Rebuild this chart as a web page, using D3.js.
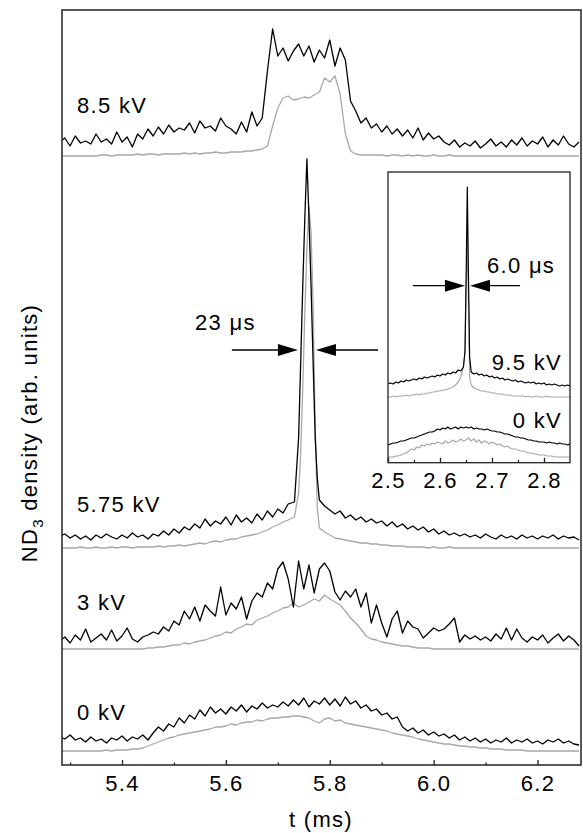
<!DOCTYPE html>
<html>
<head>
<meta charset="utf-8">
<script src="https://cdn.jsdelivr.net/npm/d3@7"></script>
<style>
  body { margin: 0; background: #fff; }
  text { font-family: "Liberation Sans", Arial, sans-serif; font-size: 22px; letter-spacing: 1.3px; fill: #000; }
</style>
</head>
<body>
<svg id="chart" width="583" height="833"></svg>
<script>
// sampling grid of the main traces (ms) and of the inset traces (ms)
const mainStart = 5.28, mainStep = 0.01;
const insetStart = 2.5, insetStep = 0.005;

const mainTicks = [5.4, 5.6, 5.8, 6.0, 6.2];
const mainMinor = [5.3, 5.5, 5.7, 5.9, 6.1];
const insetTicks = [2.5, 2.6, 2.7, 2.8];
const insetMinor = [2.55, 2.65, 2.75];

const voltages = ["0 kV", "3 kV", "5.75 kV", "8.5 kV"];
const offsets = [14, 116, 217, 609];

// ND3 signal, 5.28 .. 6.28 ms, black = measured, grey = averaged
const black0 = [14,12,16,11,13,9,14,10,12,8, 13,11,15,10,14,12,16,11,18,24,
  20,27,24,33,28,36,32,41,35,44, 38,42,37,44,40,46,39,45,42,48,
  43,46,44,49,45,51,46,53,44,50, 47,53,46,52,45,54,47,50,43,46,
  40,42,36,38,32,34,24,20,23,18, 21,16,19,15,17,13,16,11,14,10,
  13,9,12,8,11,9,13,8,11,9, 12,8,10,7,11,9,12,8,10,7, 6];
const grey0 = [0,0,0,0,0,0,0,0,0,1, 0,1,1,1,2,2,3,5,7,9,
  11,13,14,16,17,18,19,20,21,22, 24,24,25,27,26,28,29,29,31,30,
  32,33,33,34,34,35,35,34,33,30, 28,32,33,30,31,28,27,26,25,24,
  23,22,21,20,18,17,16,15,14,12, 11,10,9,8,7,7,6,5,5,4,
  4,3,3,2,2,2,1,1,1,1, 0,0,0,0,0,0,0,0,0,0, 0];

const black3 = [8,12,6,14,9,20,7,11,15,9, 19,8,13,21,10,7,12,14,17,15,
  22,18,28,24,38,30,42,28,44,38, 33,62,34,46,40,52,30,48,56,52,
  66,60,80,87,70,42,88,60,84,56, 80,86,78,57,49,58,52,60,42,56,
  26,44,26,12,30,38,16,28,22,20, 11,16,21,18,20,25,31,7,14,10,
  13,9,12,8,15,10,21,9,20,11, 7,12,9,14,6,11,15,8,13,9, 3];
const grey3 = [0,0,0,0,0,0,0,0,0,0, 0,0,0,0,0,0,0,1,1,2,
  2,3,4,4,6,5,7,8,9,11, 13,14,17,16,20,22,25,24,29,31,
  33,36,38,41,42,46,42,44,47,50, 48,54,50,47,44,38,31,26,20,13,
  10,9,7,6,5,4,3,3,2,1, 1,1,0,0,0,0,0,0,0,0,
  0,0,0,0,0,0,0,0,0,0, 0,0,0,0,0,0,0,0,0,0, 0];

const black575 = [12,14,10,13,9,12,8,13,10,14, 11,9,13,10,15,11,13,9,14,12,
  17,13,19,15,21,18,24,20,29,22, 27,24,31,23,33,26,30,25,34,28,
  37,31,39,35,44,null,null,null,null,null, null,42,38,34,37,30,33,28,31,26,
  29,25,27,22,26,21,24,19,22,18, 21,16,19,14,17,13,15,12,14,11,
  13,10,14,11,9,13,10,12,9,13, 10,12,9,12,10,13,9,12,10,11, 8];
const grey575 = [0,0,0,0,1,0,0,1,0,0, 1,0,1,1,0,1,1,1,1,2,
  1,2,2,3,2,3,4,5,4,6, 7,6,8,9,9,11,12,13,14,16,
  18,21,23,26,28,null,null,null,null,null, null,16,13,10,9,8,7,6,5,5,
  4,4,3,3,2,2,2,1,1,1, 1,0,1,0,0,1,0,0,0,0,
  0,0,0,0,0,0,0,0,0,0, 0,0,0,0,0,0,0,0,0,0, 0];
// the narrow 5.75 kV peak, sampled finer
const peak575Times = [5.732, 5.740, 5.744, 5.748, 5.752, 5.756, 5.760, 5.764, 5.768, 5.772, 5.776, 5.780];
const peak575Black = [46, 110, 185, 262, 330, 389, 330, 262, 185, 110, 70, 48];
const peak575Grey = [31, 55, 95, 160, 235, 300, 341, 316, 240, 120, 40, 20];

const black85 = [14,18,10,20,13,15,12,22,14,17, 12,24,14,19,9,22,17,27,20,29,
  22,31,24,28,26,33,23,35,28,30, 25,38,30,27,22,34,24,44,30,38,
  85,127,100,108,95,105,112,100,110,94, 106,98,116,90,108,96,55,45,33,38,
  28,32,24,30,22,27,20,26,18,28, 16,23,17,20,14,11,16,9,13,10,
  15,8,12,17,10,14,9,16,11,18, 10,15,12,19,9,16,11,20,12,9, 14];
const grey85 = [0,0,0,0,0,0,0,0,1,1, 0,1,1,1,1,2,1,2,2,1,
  2,2,2,2,3,2,3,2,3,3, 4,3,3,4,4,4,5,5,6,7,
  10,30,48,58,60,56,57,59,58,61, 64,78,74,80,62,22,5,2,1,1,
  1,1,1,0,1,1,0,1,0,1, 0,0,1,0,0,1,0,0,0,0,
  0,0,0,0,0,0,0,0,0,0, 0,0,0,0,0,0,0,0,0,0, 0];

// inset, 2.50 .. 2.85 ms
const insetVoltages = ["0 kV", "9.5 kV"];
const insetOffsets = [4.7, 65.7];
const insetBlack0 = [13,14,15,15,16,17,17,18,19,20, 20,21,22,23,24,25,26,26,27,29,
  28,30,29,31,29,30,31,29,31,30, 31,30,31,29,30,29,29,28,29,28,
  27,27,26,26,25,24,24,23,22,21, 21,20,20,19,18,18,17,17,16,16,
  16,15,16,15,15,14,15,14,14,13, 14];
const insetGrey0 = [1,1,1,2,2,3,4,5,7,9, 8,11,10,13,12,14,13,15,14,16,
  15,14,17,15,16,18,16,17,19,17, 18,20,17,19,16,18,15,17,16,14,
  16,15,13,14,12,11,12,10,9,9, 8,7,7,6,5,5,4,4,3,3,
  3,2,2,2,1,1,1,1,1,1, 1];
const insetBlack95 = [13,14,13,15,14,16,15,17,16,17, 18,17,19,18,20,19,20,21,20,22,
  21,23,22,24,23,25,24,27,26,30, null,null,25,23,24,22,23,21,22,20,
  21,19,20,18,19,17,18,17,16,17, 15,16,15,14,15,14,15,13,14,13,
  14,12,13,12,13,12,11,12,11,12, 11];
const insetGrey95 = [0,0,1,0,1,1,1,2,1,2, 2,3,2,3,3,4,4,5,5,6,
  6,7,7,8,9,10,12,15,20,30, null,null,12,9,8,7,6,6,5,5,
  4,4,3,3,3,2,2,2,1,1, 1,1,1,0,1,0,0,1,0,0,
  0,1,0,0,0,0,0,0,0,0, 0];
const peak95Times = [2.648, 2.6505, 2.6525, 2.6545, 2.657];
const peak95Black = [45, 130, 210, 130, 40];
const peak95Grey = [45, 110, 160, 100, 20];

// FWHM arrows: tail, tip, tip, tail (ms) and the level (same units as the traces)
const fwhmMain = [5.6115, 5.7387, 5.7734, 5.893];
const fwhmMainLevel = 415;
const fwhmInset = [2.548, 2.648, 2.6577, 2.754];
const fwhmInsetLevel = 177;

const svg = d3.select("#chart");

const x = d3.scaleLinear().domain([5.2845, 6.2837]).range([62, 581]);
const y = d3.scaleLinear().domain([0, 755]).range([765, 10]);
const xIn = d3.scaleLinear().domain([2.5, 2.85]).range([388, 570]);
const yIn = d3.scaleLinear().domain([0, 290.7]).range([462.7, 172]);

function toPoints(t0, step, vals, offset, extraT, extraV) {
    const pts = [];
    vals.forEach((v, i) => { if (v != null) pts.push([t0 + i * step, offset + v]); });
    if (extraT) extraT.forEach((t, i) => pts.push([t, offset + extraV[i]]));
    return pts.sort((a, b) => a[0] - b[0]);
}

function arrow(g, xs, yPix) {
    // xs = [tailL, tipL, tipR, tailR] in pixels
    g.append("line").attr("x1", xs[0]).attr("x2", xs[1] - 18).attr("y1", yPix).attr("y2", yPix)
        .attr("stroke", "#000").attr("stroke-width", 1.3);
    g.append("line").attr("x1", xs[2] + 18).attr("x2", xs[3]).attr("y1", yPix).attr("y2", yPix)
        .attr("stroke", "#000").attr("stroke-width", 1.3);
    g.append("path").attr("d", `M${xs[1]},${yPix}L${xs[1] - 20},${yPix - 6}L${xs[1] - 20},${yPix + 6}Z`);
    g.append("path").attr("d", `M${xs[2]},${yPix}L${xs[2] + 20},${yPix - 6}L${xs[2] + 20},${yPix + 6}Z`);
}

svg.append("defs").append("clipPath").attr("id", "mainClip")
    .append("rect").attr("x", 62).attr("y", 10).attr("width", 519).attr("height", 755);
svg.select("defs").append("clipPath").attr("id", "insetClip")
    .append("rect").attr("x", 388).attr("y", 172).attr("width", 182).attr("height", 290.7);

// main traces
const mainLine = d3.line().x(d => x(d[0])).y(d => y(d[1]));
const mainSeries = [
    { grey: grey0, black: black0 },
    { grey: grey3, black: black3 },
    { grey: grey575, black: black575, pt: peak575Times, pg: peak575Grey, pb: peak575Black },
    { grey: grey85, black: black85 }
];
const traces = svg.append("g").attr("clip-path", "url(#mainClip)");
mainSeries.forEach((s, i) => {
    traces.append("path")
        .attr("d", mainLine(toPoints(mainStart, mainStep, s.grey, offsets[i], s.pt, s.pg)))
        .attr("fill", "none").attr("stroke", "#a8a8a8").attr("stroke-width", 1.3)
        .attr("stroke-linejoin", "round");
    traces.append("path")
        .attr("d", mainLine(toPoints(mainStart, mainStep, s.black, offsets[i], s.pt, s.pb)))
        .attr("fill", "none").attr("stroke", "#000").attr("stroke-width", 1.3)
        .attr("stroke-linejoin", "round");
});

// trace labels
const labelY = [720, 610, 512, 113];
voltages.forEach((v, i) => {
    svg.append("text").attr("x", 77).attr("y", labelY[i]).text(v);
});

// FWHM annotation main
arrow(svg.append("g"), fwhmMain.map(x), y(fwhmMainLevel));
svg.append("text").attr("x", 195).attr("y", 330).text("23 \u03bcs");

// frame and axis
svg.append("rect").attr("x", 62).attr("y", 10).attr("width", 519).attr("height", 755)
    .attr("fill", "none").attr("stroke", "#222").attr("stroke-width", 1.5);

const xAxis = svg.append("g").attr("transform", "translate(0,765)")
    .call(d3.axisBottom(x).tickValues(mainTicks).tickSize(-5).tickPadding(10).tickFormat(d3.format(".1f")));
const xMinor = svg.append("g").attr("transform", "translate(0,765)")
    .call(d3.axisBottom(x).tickValues(mainMinor).tickSize(-2.5).tickFormat(""));
[xAxis, xMinor].forEach(g => {
    g.select(".domain").remove();
    g.selectAll("line").attr("stroke", "#222").attr("stroke-width", 1.3);
    g.selectAll("text").attr("font-size", null).attr("font-family", null);
});

svg.append("text").attr("x", 321).attr("y", 827).attr("text-anchor", "middle").text("t (ms)");

const yLab = svg.append("text").attr("transform", "translate(37,433) rotate(-90)").attr("text-anchor", "middle");
yLab.append("tspan").text("ND");
yLab.append("tspan").attr("dy", 6).style("font-size", "15px").text("3");
yLab.append("tspan").attr("dy", -6).text(" density (arb. units)");

// inset
svg.append("rect").attr("x", 388).attr("y", 172).attr("width", 182).attr("height", 290.7)
    .attr("fill", "#fff");
const insetLine = d3.line().x(d => xIn(d[0])).y(d => yIn(d[1]));
const insetSeries = [
    { grey: insetGrey0, black: insetBlack0 },
    { grey: insetGrey95, black: insetBlack95, pt: peak95Times, pg: peak95Grey, pb: peak95Black }
];
const insetTraces = svg.append("g").attr("clip-path", "url(#insetClip)");
insetSeries.forEach((s, i) => {
    insetTraces.append("path")
        .attr("d", insetLine(toPoints(insetStart, insetStep, s.grey, insetOffsets[i], s.pt, s.pg)))
        .attr("fill", "none").attr("stroke", "#a8a8a8").attr("stroke-width", 1.2)
        .attr("stroke-linejoin", "round");
    insetTraces.append("path")
        .attr("d", insetLine(toPoints(insetStart, insetStep, s.black, insetOffsets[i], s.pt, s.pb)))
        .attr("fill", "none").attr("stroke", "#000").attr("stroke-width", 1.2)
        .attr("stroke-linejoin", "round");
});

const insetLabelY = [428, 370];
insetVoltages.forEach((v, i) => {
    svg.append("text").attr("x", 562).attr("y", insetLabelY[i]).attr("text-anchor", "end").text(v);
});

arrow(svg.append("g"), fwhmInset.map(xIn), yIn(fwhmInsetLevel));
svg.append("text").attr("x", 487).attr("y", 273).text("6.0 \u03bcs");

svg.append("rect").attr("x", 388).attr("y", 172).attr("width", 182).attr("height", 290.7)
    .attr("fill", "none").attr("stroke", "#222").attr("stroke-width", 1.3);

const inAxis = svg.append("g").attr("transform", "translate(0,462.7)")
    .call(d3.axisBottom(xIn).tickValues(insetTicks).tickSize(-5).tickPadding(10).tickFormat(d3.format(".1f")));
const inMinor = svg.append("g").attr("transform", "translate(0,462.7)")
    .call(d3.axisBottom(xIn).tickValues(insetMinor).tickSize(-2.7).tickFormat(""));
[inAxis, inMinor].forEach(g => {
    g.select(".domain").remove();
    g.selectAll("line").attr("stroke", "#222").attr("stroke-width", 1.3);
    g.selectAll("text").attr("font-size", null).attr("font-family", null);
});
</script>
</body>
</html>
